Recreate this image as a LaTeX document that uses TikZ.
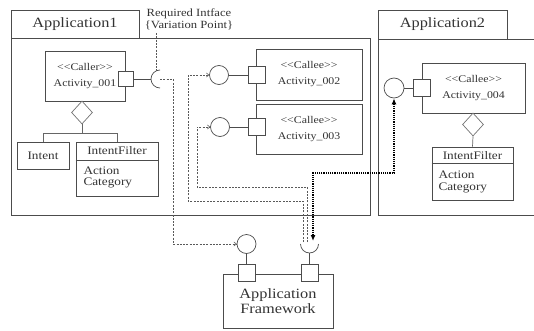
\documentclass[tikz,border=0pt]{standalone}
\usepackage{fontspec}
\setmainfont[FakeStretch=1.15]{Liberation Serif}
\usetikzlibrary{shapes.geometric,arrows.meta}
\newcommand\stereo[1]{<\kern0pt<#1>\kern0pt>}
\begin{document}
\begin{tikzpicture}[x=1pt,y=1pt,
  every node/.style={text=black!80},
  ln/.style={draw=black!70, line width=0.7pt},
  boxx/.style={ln, rectangle, inner sep=0pt, align=center},
  port/.style={ln, rectangle, fill=white, minimum size=17pt, inner sep=0pt},
  iface/.style={ln, circle, minimum size=19pt, inner sep=0pt},
  agg/.style={draw=black!55, line width=0.7pt, diamond, minimum width=21pt, minimum height=23pt, inner sep=0pt},
  aggln/.style={draw=black!60, line width=0.7pt},
  thindash/.style={draw=black!65, line width=0.6pt, dash pattern=on 2pt off 1.3pt, -{To[length=3pt,width=4.5pt]}},
  annot/.style={draw=black!65, line width=0.6pt, dash pattern=on 2pt off 1.3pt},
  thickdot/.style={draw=black, line width=1.5pt, dash pattern=on 1.2pt off 1pt, {Latex[length=6pt,width=5pt]}-{Latex[length=6pt,width=5pt]}},
  big/.style={font=\fontsize{14.2}{15}\selectfont},
  act/.style={font=\fontsize{10.3}{16}\selectfont},
  mid/.style={font=\fontsize{11.5}{11.5}\selectfont}
]
\useasboundingbox (0,0) rectangle (534,330);

% Application 1
\node[boxx, minimum width=359pt, minimum height=177pt] (app1) at (190.5,203.5) {};
\node[boxx, minimum width=128pt, minimum height=28pt, big] (tab1) at (75,306) {Application1};

% Application 2
\node[boxx, minimum width=160pt, minimum height=176pt] (app2) at (458,203) {};
\node[boxx, minimum width=129pt, minimum height=29pt, big] (tab2) at (442.5,305.5) {Application2};

% Caller
\node[boxx, minimum width=80pt, minimum height=50pt, act] (caller) at (85,254) {\stereo{Caller}\\Activity\_001};
\node[port, minimum size=15pt] (cport) at (126,251) {};
\coordinate (sock1) at (160,251);
\coordinate (sock1w) at (151,251);
\coordinate (sock1top) at (156,259);
\draw[ln] ([yshift=9pt]sock1) arc[start angle=90, end angle=270, radius=9pt];
\draw[ln] (cport.east) -- (sock1w);
\node[mid, align=center, font=\fontsize{11}{12}\selectfont] (req) at (189,311) {Required Intface\\\{Variation Point\}};
\draw[annot] (sock1top |- req.south) -- (sock1top);

% Caller aggregation
\node[agg] (d1) at (82,217.5) {};
\node[boxx, minimum width=52pt, minimum height=27pt, mid] (intent) at (43,174.5) {Intent};
\node[boxx, minimum width=82pt, minimum height=54pt] (if1) at (117,161) {};
\draw[ln] (if1.west |- 0,170) -- (if1.east |- 0,170);
\node[mid] (if1t) at (117,179) {IntentFilter};
\node[mid, align=left, anchor=west] (if1b) at (80,152.5) {Action\\Category};
\draw[aggln] (d1.south) -- ++(0,-9) coordinate (br);
\draw[aggln] (intent.north) |- (br) -| (if1.north);

% Callees
\node[boxx, minimum width=106pt, minimum height=51pt, act] (c2) at (309,255.5) {\stereo{Callee}\\Activity\_002};
\node[port] (p2) at (256.5,255) {};
\node[iface] (i2) at (219,255) {};
\draw[ln] (i2.east) -- (p2.west);

\node[boxx, minimum width=106pt, minimum height=50pt, act] (c3) at (309,201) {\stereo{Callee}\\Activity\_003};
\node[port] (p3) at (256.5,203) {};
\node[iface] (i3) at (220,203) {};
\draw[ln] (i3.east) -- (p3.west);

% Activity 004
\node[boxx, minimum width=103pt, minimum height=50pt, act] (c4) at (473.5,242) {\stereo{Callee}\\Activity\_004};
\node[port] (p4) at (422,242) {};
\node[iface, minimum size=20pt] (i4) at (394,242) {};
\draw[ln] (i4.east) -- (p4.west);
\node[agg] (d4) at (473,205.5) {};
\node[boxx, minimum width=81pt, minimum height=53pt] (if2) at (472.5,156.5) {};
\draw[ln] (if2.west |- 0,167) -- (if2.east |- 0,167);
\node[mid] (if2t) at (472.5,174.5) {IntentFilter};
\node[mid, align=left, anchor=west] (if2b) at (435,148) {Action\\Category};
\draw[aggln] (d4.south) -- (if2.north);

% Framework
\node[boxx, minimum width=110pt, minimum height=54pt, big] (fw) at (278,29) {Application\\Framework};
\node[port] (fw1) at (246.5,57) {};
\node[port] (fw2) at (309.5,57) {};
\node[iface] (fwc) at (246.5,86) {};
\draw[ln] (fwc.south) -- (fw1.north);
\coordinate (sock2) at (309.5,86);
\coordinate (sock2b) at (309.5,77);
\draw[ln] ([xshift=-9pt]sock2) arc[start angle=180, end angle=360, radius=9pt];
\draw[ln] (sock2b) -- (fw2.north);

% dashed connectors
\coordinate (s2a) at (303,88);
\coordinate (s2b) at (307.5,88);
\coordinate (s2c) at (313,89);
\draw[thindash] (sock1) -- ++(13,0) |- (fwc.west);
\draw[thindash] (s2a) |- (188,129) |- (i2.west);
\draw[thindash] (s2b) |- (197,143) |- (i3.west);
\draw[thickdot] (i4.south) |- (313,157) -- (s2c);
\end{tikzpicture}
\end{document}
